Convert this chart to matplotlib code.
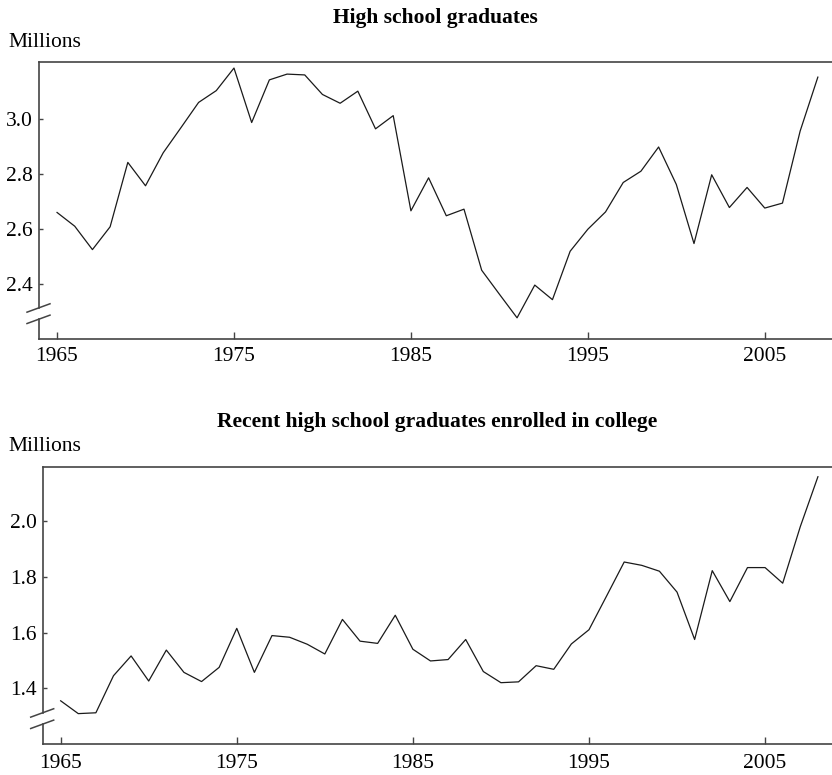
import matplotlib
matplotlib.use('Agg')
import matplotlib.pyplot as plt

# Data (millions)
years = list(range(1965, 2009))

hs_graduates = [2.66, 2.61, 2.525, 2.608, 2.842, 2.757, 2.877, 2.968, 3.06, 3.103,
                3.185, 2.987, 3.142, 3.163, 3.16, 3.089, 3.057, 3.101, 2.964, 3.012,
                2.666, 2.786, 2.648, 2.672, 2.45, 2.363, 2.277, 2.396, 2.343, 2.519,
                2.599, 2.662, 2.769, 2.81, 2.898, 2.762, 2.547, 2.797, 2.678, 2.751,
                2.676, 2.694, 2.956, 3.152]

enrolled = [1.355, 1.309, 1.312, 1.445, 1.516, 1.426, 1.537, 1.457, 1.424, 1.475,
            1.615, 1.457, 1.589, 1.583, 1.558, 1.523, 1.647, 1.569, 1.561, 1.662,
            1.54, 1.498, 1.503, 1.575, 1.46, 1.42, 1.423, 1.481, 1.468, 1.559,
            1.61, 1.731, 1.853, 1.841, 1.82, 1.745, 1.575, 1.822, 1.711, 1.833,
            1.833, 1.777, 1.98, 2.159]

x_ticks = [1965, 1975, 1985, 1995, 2005]
hs_yticks = [2.4, 2.6, 2.8, 3.0]
en_yticks = [1.4, 1.6, 1.8, 2.0]

plt.rcParams['font.family'] = ['Liberation Serif', 'DejaVu Serif']
plt.rcParams['font.size'] = 15.5

W, H = 832, 775
fig = plt.figure(figsize=(W / 100, H / 100), dpi=100)

spine_col = '#444444'
line_col = '#1a1a1a'


def panel(rect, y, yticks, ylim, title, title_y, millions_y, xpad):
    ax = fig.add_axes(rect)
    ax.plot(years, y, color=line_col, lw=0.9)
    ax.set_xlim(1963.98, 2008.8)
    ax.set_ylim(*ylim)
    ax.set_xticks(x_ticks)
    ax.set_xticklabels([str(t) for t in x_ticks])
    ax.set_yticks(yticks)
    ax.set_yticklabels([f'{t:.1f}' for t in yticks])
    ax.tick_params(axis='x', direction='in', length=5, width=1, color=spine_col, pad=xpad)
    ax.tick_params(axis='y', direction='in', length=3.2, width=1, color=spine_col, pad=4.5)
    for s in ['right', 'left']:
        ax.spines[s].set_visible(False)
    for s in ['top', 'bottom']:
        ax.spines[s].set_color(spine_col)
        ax.spines[s].set_linewidth(1.2)

    # left spine with an axis break
    lo, hi = 0.071, 0.112
    ax.plot([0, 0], [0, lo], transform=ax.transAxes, color=spine_col, lw=1.2, clip_on=False)
    ax.plot([0, 0], [hi, 1], transform=ax.transAxes, color=spine_col, lw=1.2, clip_on=False)
    wpx = rect[2] * W
    hpx = rect[3] * H
    for yc in (lo, hi):
        x0, x1 = -12 / wpx, 11 / wpx
        dy = 4.2 / hpx
        ax.plot([x0, x1], [yc - dy, yc + dy], transform=ax.transAxes,
                color=spine_col, lw=1.1, clip_on=False)

    cx = rect[0] + rect[2] / 2
    fig.text(cx, 1 - title_y / H, title, ha='center', va='baseline',
             fontweight='bold', fontsize=15.5)
    fig.text(8 / W, 1 - millions_y / H, 'Millions', ha='left', va='baseline', fontsize=15.5)
    return ax


panel([39 / W, 1 - 339 / H, 1 - 39 / W, 277 / H], hs_graduates, hs_yticks,
      (2.2, 3.207), 'High school graduates', 22.7, 46.7, 6)
panel([42.7 / W, 1 - 744 / H, 1 - 42.7 / W, 277.3 / H], enrolled, en_yticks,
      (1.2, 2.195), 'Recent high school graduates enrolled in college', 426.7, 451, 7)

fig.savefig('out.png', dpi=100)
